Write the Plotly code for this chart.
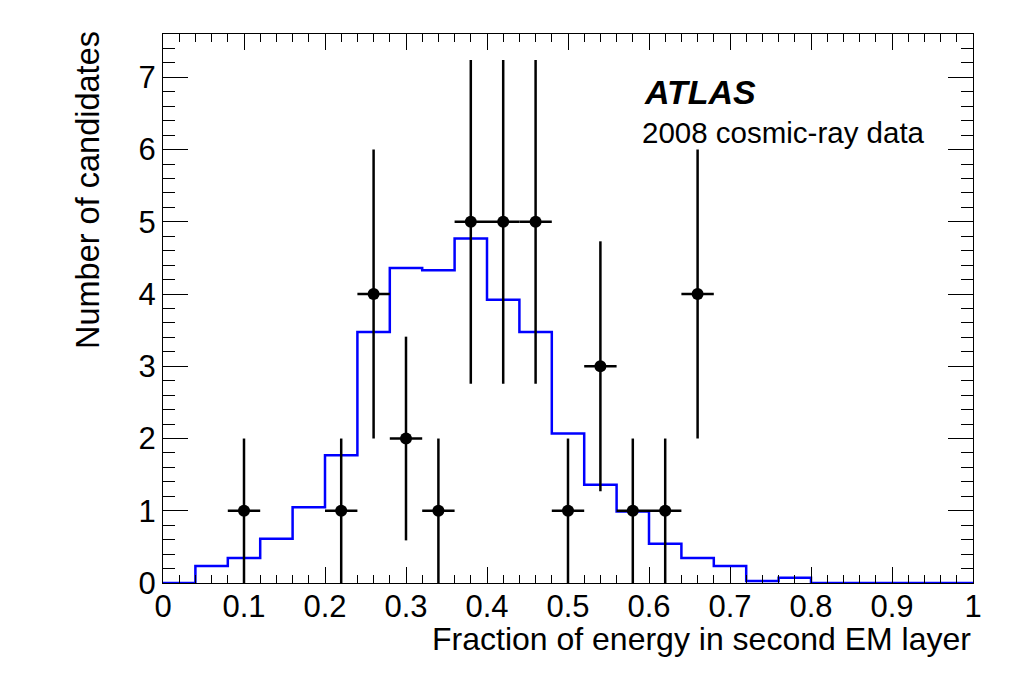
"""ATLAS cosmic-ray candidates: fraction of energy in second EM layer."""
import plotly.graph_objects as go

# Bin edges of the simulated distribution (25 bins of width 0.04)
bin_edges = [0.00, 0.04, 0.08, 0.12, 0.16, 0.20, 0.24, 0.28, 0.32, 0.36, 0.40,
             0.44, 0.48, 0.52, 0.56, 0.60, 0.64, 0.68, 0.72, 0.76, 0.80,
             0.84, 0.88, 0.92, 0.96, 1.00]
# Simulation histogram (blue), normalised to data
mc_counts = [0.0, 0.235, 0.346, 0.613, 1.05, 1.77, 3.475, 4.36, 4.33, 4.77,
             3.92, 3.475, 2.07, 1.36, 0.99, 0.544, 0.346, 0.235, 0.028, 0.074,
             0.0, 0.0, 0.0, 0.0, 0.0]

# Data points (bin centres) with errors
data_x = [0.10, 0.22, 0.26, 0.30, 0.34, 0.38, 0.42, 0.46, 0.50, 0.54, 0.58, 0.62, 0.66]
data_y = [1, 1, 4, 2, 1, 5, 5, 5, 1, 3, 1, 1, 4]
data_yerr = [1.0, 1.0, 2.0, 1.41, 1.0, 2.24, 2.24, 2.24, 1.0, 1.73, 1.0, 1.0, 2.0]
data_xerr = [0.02] * len(data_x)

# axis tick labels
x_tickvals = [0, 0.1, 0.2, 0.3, 0.4, 0.5, 0.6, 0.7, 0.8, 0.9, 1.0]
x_ticktext = ["0", "0.1", "0.2", "0.3", "0.4", "0.5", "0.6", "0.7", "0.8", "0.9", "1"]
y_tickvals = [0, 1, 2, 3, 4, 5, 6, 7]

FONT = "Liberation Sans, Arial, Helvetica, sans-serif"

fig = go.Figure()

# step histogram: repeat last value so the final bin is closed at x=1
fig.add_trace(
    go.Scatter(
        x=bin_edges,
        y=mc_counts + [mc_counts[-1]],
        mode="lines",
        line=dict(color="#0000ff", width=2.5, shape="hv"),
        hoverinfo="skip",
        showlegend=False,
    )
)

fig.add_trace(
    go.Scatter(
        x=data_x,
        y=data_y,
        mode="markers",
        marker=dict(color="black", size=12),
        error_y=dict(type="data", array=data_yerr, color="black", thickness=2.5, width=0),
        error_x=dict(type="data", array=data_xerr, color="black", thickness=2.5, width=0),
        showlegend=False,
        cliponaxis=False,
    )
)

axis_common = dict(
    showline=True,
    linecolor="black",
    linewidth=1,
    mirror="ticks",
    showgrid=False,
    zeroline=False,
    ticks="inside",
    tickcolor="black",
    tickwidth=1,
    automargin=False,
    tickfont=dict(family=FONT, size=31, color="black"),
)

fig.update_xaxes(
    range=[0, 1],
    tickmode="array",
    tickvals=x_tickvals,
    ticktext=x_ticktext,
    tickangle=0,
    ticklen=16,
    ticklabelstandoff=-4,
    minor=dict(dtick=0.02, tick0=0, ticks="inside", ticklen=8, tickcolor="black", tickwidth=1),
    **axis_common,
)
fig.update_yaxes(
    range=[0, 7.6],
    tickmode="array",
    tickvals=y_tickvals,
    ticklen=25,
    minor=dict(dtick=0.2, tick0=0, ticks="inside", ticklen=12, tickcolor="black", tickwidth=1),
    **axis_common,
)

fig.add_annotation(
    text="Fraction of energy in second EM layer",
    xref="paper", yref="paper", x=1, y=0,
    xanchor="right", yanchor="middle", yshift=-56,
    showarrow=False,
    font=dict(family=FONT, size=32, color="black"),
)
fig.add_annotation(
    text="Number of candidates",
    xref="paper", yref="paper", x=0, y=1,
    xanchor="center", yanchor="top", xshift=-75, yshift=5,
    textangle=-90,
    showarrow=False,
    font=dict(family=FONT, size=32.5, color="black"),
)
fig.add_annotation(
    text="<b><i>ATLAS</i></b>",
    xref="paper", yref="paper", x=0.591, y=0.895,
    xanchor="left", yanchor="middle",
    showarrow=False,
    font=dict(family=FONT, size=34, color="black"),
)
fig.add_annotation(
    text="2008 cosmic-ray data",
    xref="paper", yref="paper", x=0.589, y=0.82,
    xanchor="left", yanchor="middle",
    showarrow=False,
    font=dict(family=FONT, size=29.5, color="black"),
)

# page body adds an 8px offset, margins compensate for it
fig.update_layout(
    width=1024,
    height=694,
    margin=dict(l=155, r=59, t=26, b=119),
    paper_bgcolor="white",
    plot_bgcolor="white",
    font=dict(family=FONT, color="black"),
)

fig.write_html("out.html")
